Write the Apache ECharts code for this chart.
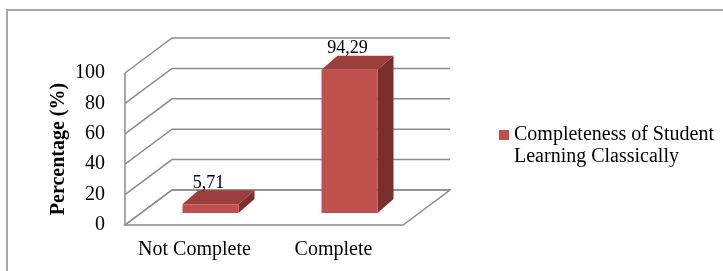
<!DOCTYPE html>
<html>
<head>
<meta charset="utf-8">
<title>Completeness of Student Learning Classically</title>
<script src="https://cdn.jsdelivr.net/npm/echarts@6/dist/echarts.min.js"></script>
<style>
html, body { margin: 0; padding: 0; background: #fff; }
#chart { width: 723px; height: 271px; }
</style>
</head>
<body>
<div id="chart"></div>
<script>
var categories = ["Not Complete", "Complete"];
var values = [5.71, 94.29];
var valueLabels = ["5,71", "94,29"];
var yTicks = [0, 20, 40, 60, 80, 100];
var seriesName = "Completeness of Student Learning Classically";

// depth of the 3d box (back wall offset) and of the bars
var depth = [47, -35];
var barFront = [16, -12];
var barDepth = [16, -14];
var barWidth = 56;
var font = "Liberation Serif";

var my_chart = echarts.init(document.getElementById("chart"));

function renderWall(params, api)
{
	var cs = params.coordSys;
	var v = api.value(1);
	var y = api.coord([0, v])[1];
	var children = [{
		type: "polyline",
		shape: { points: [[cs.x, y], [cs.x + depth[0], y + depth[1]], [cs.x + cs.width + depth[0], y + depth[1]]] },
		style: { fill: null, stroke: "#8c8c8c", lineWidth: 1.5 }
	}];
	if (v === 0) {
		children.push({
			type: "polygon",
			shape: { points: [[cs.x, y], [cs.x + cs.width, y], [cs.x + cs.width + depth[0], y + depth[1]], [cs.x + depth[0], y + depth[1]]] },
			style: { fill: null, stroke: "#8c8c8c", lineWidth: 1.5 }
		});
		var top = api.coord([0, yTicks[yTicks.length - 1]])[1];
		children.push({
			type: "line",
			shape: { x1: cs.x, y1: top, x2: cs.x, y2: y },
			style: { stroke: "#8c8c8c", lineWidth: 1.5 }
		});
	}
	return { type: "group", children: children };
}

function renderBar(params, api)
{
	var idx = api.value(0);
	var val = api.value(1);
	var p0 = api.coord([idx, 0]);
	var p1 = api.coord([idx, val]);
	var x0 = p0[0] + barFront[0] - barWidth / 2;
	var x1 = x0 + barWidth;
	var yb = p0[1] + barFront[1];
	var yt = p1[1] + barFront[1];
	var dx = barDepth[0], dy = barDepth[1];
	return {
		type: "group",
		children: [{
			type: "polygon",
			shape: { points: [[x1, yt], [x1 + dx, yt + dy], [x1 + dx, yb + dy], [x1, yb]] },
			style: { fill: "#7b2f2d" }
		}, {
			type: "polygon",
			shape: { points: [[x0, yt], [x0 + dx, yt + dy], [x1 + dx, yt + dy], [x1, yt]] },
			style: { fill: "#9c3e3b" }
		}, {
			type: "rect",
			shape: { x: x0, y: yt, width: barWidth, height: yb - yt },
			style: { fill: "#c0504d" }
		}, {
			type: "text",
			x: (x0 + x1) / 2 - 2,
			y: yt + dy - 7,
			style: {
				text: valueLabels[params.dataIndex],
				fill: "#000",
				font: "18px '" + font + "'",
				align: "center",
				verticalAlign: "middle"
			}
		}]
	};
}

var option = {
	animation: false,
	backgroundColor: "#fff",
	graphic: [{
		type: "rect",
		shape: { x: 7, y: 10, width: 760, height: 300 },
		style: { fill: null, stroke: "#a6a6a6", lineWidth: 2 },
		silent: true
	}],
	legend: {
		data: [seriesName],
		left: 499,
		top: 103,
		padding: 0,
		orient: "vertical",
		icon: "rect",
		itemWidth: 10,
		itemHeight: 10,
		// empty first line keeps the marker level with the first text line
		formatter: function () { return "{a|}\n{a|Completeness of Student}\n{a|Learning Classically}"; },
		textStyle: {
			rich: {
				a: { fontFamily: font, fontSize: 20, color: "#000", lineHeight: 22 }
			}
		}
	},
	grid: {
		left: 125,
		right: 320,
		top: 73,
		bottom: 46
	},
	xAxis: {
		type: "category",
		data: categories,
		axisLine: { show: false },
		axisTick: { show: false },
		axisLabel: { interval: 0, margin: 15, color: "#000", fontFamily: font, fontSize: 20 }
	},
	yAxis: {
		type: "value",
		min: 0,
		max: 100,
		interval: 20,
		name: "Percentage (%)",
		nameLocation: "middle",
		nameGap: 56,
		nameRotate: 90,
		nameTextStyle: { color: "#000", fontFamily: font, fontSize: 20, fontWeight: "bold" },
		axisLine: { show: false },
		axisTick: { show: false },
		splitLine: { show: false },
		axisLabel: { margin: 20, color: "#000", fontFamily: font, fontSize: 20 }
	},
	series: [{
		type: "custom",
		silent: true,
		z: 1,
		renderItem: renderWall,
		data: yTicks.map(function (v) { return [0, v]; })
	}, {
		name: seriesName,
		type: "custom",
		z: 2,
		itemStyle: { color: "#c0504d" },
		renderItem: renderBar,
		data: values.map(function (v, i) { return [i, v]; })
	}]
};

my_chart.setOption(option);
</script>
</body>
</html>
